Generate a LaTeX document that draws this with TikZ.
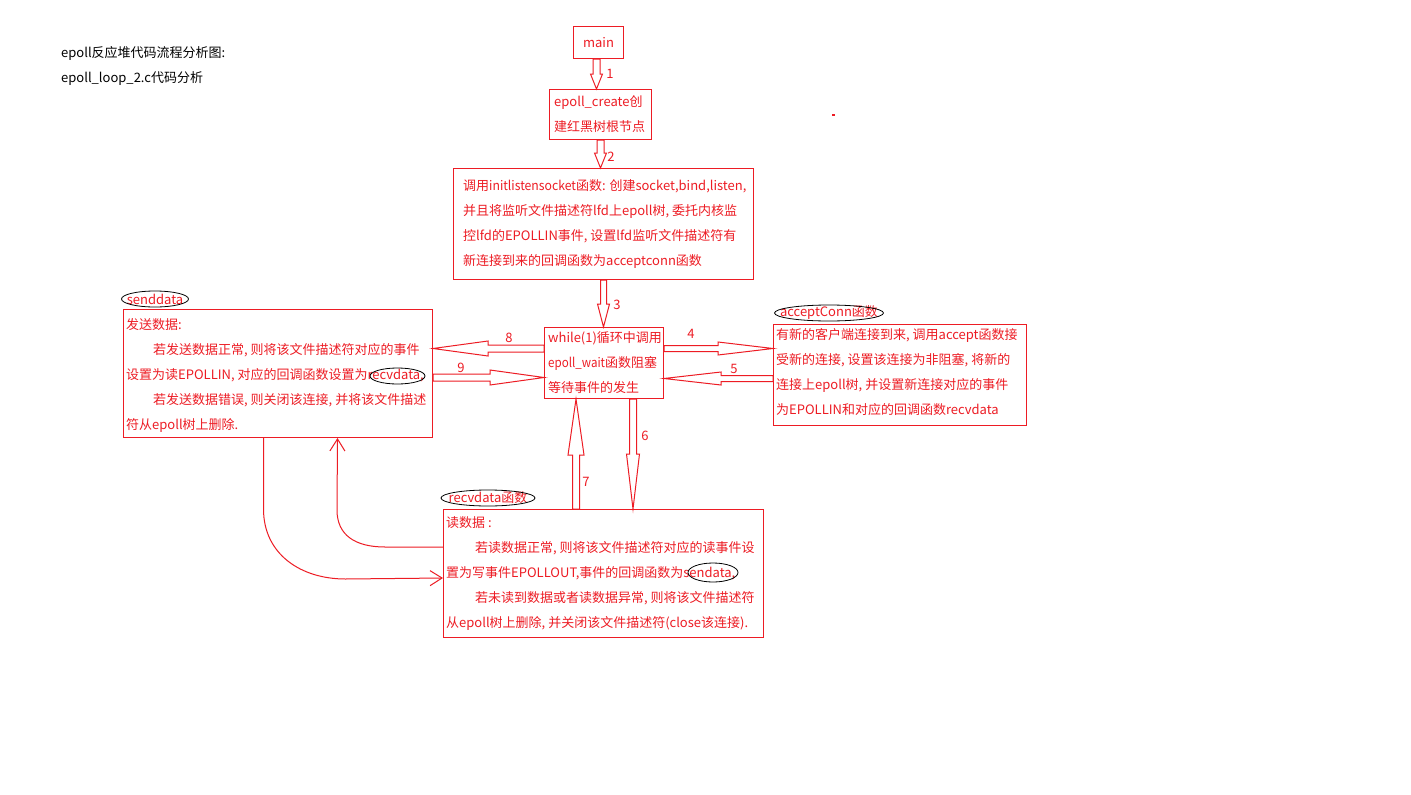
\documentclass[tikz,border=0pt]{standalone}
\usepackage{fontspec}
\setmainfont{Noto Sans CJK SC}
\usetikzlibrary{calc,arrows.meta}
\definecolor{pen}{RGB}{237,28,36}

% hollow block arrow: start, end, shaft half-width, head half-width, head length
\newcommand\fatarrow[5]{%
  \path (#1) coordinate (fa-s) (#2) coordinate (fa-e);
  \path ($(fa-e)!#5!(fa-s)$) coordinate (fa-n);
  \draw[fat] ($(fa-s)!#3!90:(fa-e)$) -- ($(fa-n)!#3!90:(fa-e)$)
    -- ($(fa-n)!#4!90:(fa-e)$) -- (fa-e) -- ($(fa-n)!#4!-90:(fa-e)$)
    -- ($(fa-n)!#3!-90:(fa-e)$) -- ($(fa-s)!#3!-90:(fa-e)$) -- cycle;}
% slightly condensed Latin word
\newcommand\narrow[2]{\scalebox{#1}[1]{#2}}

\begin{document}
\begin{tikzpicture}[x=1pt,y=-1pt,
  box/.style={draw=pen, line width=1pt, inner sep=0pt, anchor=north west},
  txt/.style={text=pen, font=\fontsize{13pt}{25pt}\selectfont, align=left, inner sep=0pt, anchor=west},
  plain/.style={text=black, font=\fontsize{13pt}{15pt}\selectfont, inner sep=0pt, anchor=west},
  tag/.style={text=pen, font=\fontsize{13pt}{15pt}\selectfont, inner sep=0pt},
  num/.style={text=pen, font=\fontsize{13pt}{15pt}\selectfont, inner sep=0pt},
  ring/.style={draw=black, line width=0.8pt},
  fat/.style={draw=pen, line width=1pt, line join=miter},
  link/.style={draw=pen, line width=1pt, -{Straight Barb[length=12pt,width=15pt]}}]

\fill[white] (0,0) rectangle (1411,795);
\useasboundingbox (0,0) rectangle (1411,795);

% heading
\node[plain] (title1) at (61,53) {epoll反应堆代码流程分析图:};
\node[plain] (title2) at (61,78.5) {epoll\_loop\_2.c代码分析};

% boxes
\node[box, minimum width=50pt, minimum height=32pt, text=pen,
      font=\fontsize{13pt}{15pt}\selectfont] (main) at (573,26) {main};

\node[box, minimum width=102pt, minimum height=50pt] (create) at (549,89) {};
\node[txt] (create-t) at ([xshift=5pt]create.west) {epoll\_create创\\建红黑树根节点};

\node[box, minimum width=300pt, minimum height=111pt] (init) at (453,168) {};
\node[txt] (init-t) at ([xshift=10pt]init.west)
  {调用\narrow{0.94}{initlistensocket}函数: 创建socket,bind,listen,\\
   并且将监听文件描述符lfd上epoll树, 委托内核监\\
   控lfd的EPOLLIN事件, 设置lfd监听文件描述符有\\
   新连接到来的回调函数为acceptconn函数};

\node[box, minimum width=119pt, minimum height=71pt] (loop) at (544,327) {};
\node[txt] (loop-t) at ([xshift=4pt]loop.west)
  {while(1)循环中调用\\\narrow{0.89}{epoll\_wait}函数阻塞\\等待事件的发生};

\node[box, minimum width=309pt, minimum height=128pt] (send) at (123,309) {};
\node[txt] (send-t) at ([xshift=3pt,yshift=-2pt]send.west)
  {发送数据:\\
   \hspace*{27pt}若发送数据正常, 则将该文件描述符对应的事件\\
   设置为读EPOLLIN, 对应的回调函数设置为recvdata,\\
   \hspace*{27pt}若发送数据错误, 则关闭该连接, 并将该文件描述\\
   符从epoll树上删除.};

\node[box, minimum width=253pt, minimum height=101pt] (accept) at (773,324) {};
\node[txt] (accept-t) at ([xshift=3pt,yshift=3pt]accept.west)
  {有新的客户端连接到来, 调用accept函数接\\
   受新的连接, 设置该连接为非阻塞, 将新的\\
   连接上epoll树, 并设置新连接对应的事件\\
   为EPOLLIN和对应的回调函数recvdata};

\node[box, minimum width=320pt, minimum height=128pt] (recv) at (443,509) {};
\node[txt] (recv-t) at ([xshift=3pt]recv.west)
  {读数据 :\\
   \hspace*{29pt}若读数据正常, 则将该文件描述符对应的读事件设\\
   置为写事件EPOLLOUT,事件的回调函数为sendata,\\
   \hspace*{29pt}若未读到数据或者读数据异常, 则将该文件描述符\\
   从epoll树上删除, 并关闭该文件描述符(close该连接).};

% circled names
\node[tag] (send-tag) at (155,299) {senddata};
\draw[ring] (send-tag.center) ellipse (33.5pt and 8pt);
\node[tag] (accept-tag) at (829,313) {acceptConn函数};
\draw[ring] (accept-tag.center) ellipse (54.5pt and 8pt);
\node[tag] (recv-tag) at (488,498) {recvdata函数};
\draw[ring] (recv-tag.center) ellipse (47pt and 8pt);
\draw[ring] (397.5,376) ellipse (27.5pt and 8pt);
\draw[ring] (713,572.5) ellipse (25pt and 9.5pt);

% block arrows
\coordinate (a1s) at ([xshift=-2pt]main.south);
\coordinate (a1e) at (a1s |- create.north);
\fatarrow{a1s}{a1e}{3.5pt}{6pt}{15pt}
\fatarrow{create.south}{create.south |- init.north}{3.5pt}{6pt}{15pt}
\fatarrow{init.south}{init.south |- loop.north}{3pt}{6pt}{23pt}

\coordinate (a4s) at ([yshift=14.5pt]loop.east);
\coordinate (a4e) at (a4s -| accept.west);
\fatarrow{a4s}{a4e}{3pt}{6.5pt}{55pt}
\coordinate (a5s) at ([yshift=-15.5pt]loop.east -| accept.west);
\coordinate (a5e) at ([yshift=-15.5pt]loop.east);
\fatarrow{a5s}{a5e}{3pt}{6.5pt}{57pt}

\coordinate (a8s) at ([yshift=14.5pt]loop.west);
\coordinate (a8e) at (a8s -| send.east);
\fatarrow{a8s}{a8e}{3.5pt}{7.5pt}{55pt}
\coordinate (a9e) at ([yshift=-14.5pt]loop.west);
\coordinate (a9s) at (a9e -| send.east);
\fatarrow{a9s}{a9e}{3.5pt}{7.5pt}{54pt}

\coordinate (a6s) at ([xshift=29pt]loop.south);
\coordinate (a6e) at (a6s |- recv.north);
\fatarrow{a6s}{a6e}{3.5pt}{6.5pt}{55pt}
\coordinate (a7e) at ([xshift=-28pt]loop.south);
\coordinate (a7s) at (a7e |- recv.north);
\fatarrow{a7s}{a7e}{3.5pt}{8pt}{56pt}

% step numbers
\node[num] (n1) at (610,74) {1};
\node[num] (n2) at (611,157) {2};
\node[num] (n3) at (617,305) {3};
\node[num] (n4) at (691,334) {4};
\node[num] (n5) at (734,369) {5};
\node[num] (n6) at (645,436) {6};
\node[num] (n7) at (586,482) {7};
\node[num] (n8) at (509,338) {8};
\node[num] (n9) at (461,368) {9};

% curved links between recvdata and senddata
\coordinate (ca0) at ([yshift=-38pt]recv.north west);
\coordinate (ca1) at ([xshift=59.5pt]send.south);
\draw[link] (ca0) -- ++(-58,0) .. controls +(-30,0) and +(0,25) .. ++(-48,-37) -- (ca1);
\coordinate (cb0) at ([xshift=-14.5pt]send.south);
\coordinate (cb1) at ([yshift=-69pt]recv.north west);
\draw[link] (cb0) -- ++(0,71) .. controls +(0,45) and +(-45,0) .. ++(82,70) -- (cb1);

% stray pen mark
\fill[pen] (832,114) rectangle (835,116);
\end{tikzpicture}
\end{document}
